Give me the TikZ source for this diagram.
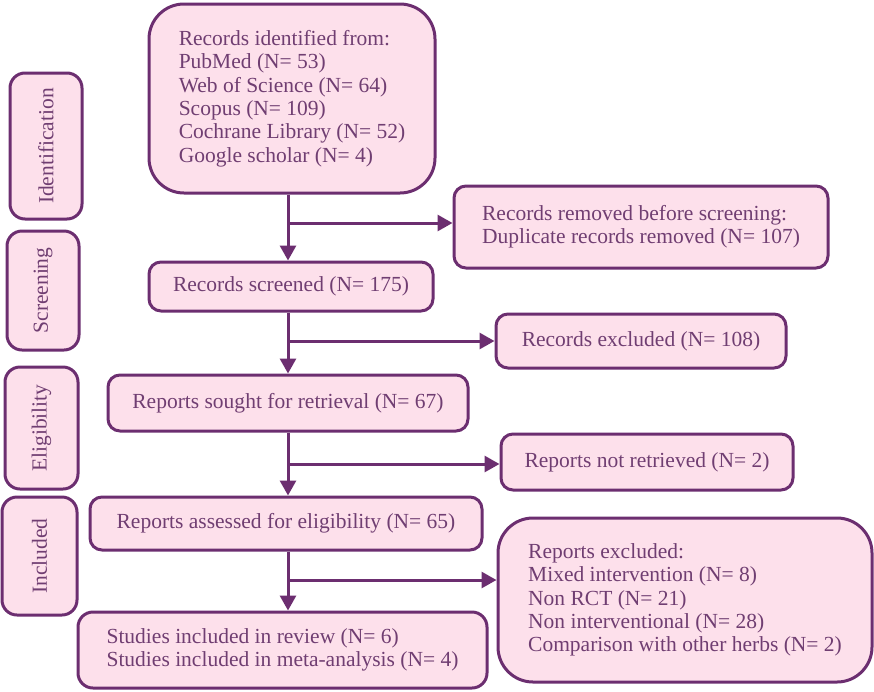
\documentclass[tikz,border=0pt]{standalone}
\usepackage{fontspec}
\setmainfont{Liberation Serif}
\usetikzlibrary{arrows.meta}
\definecolor{boxfill}{RGB}{253,224,235}
\definecolor{boxline}{RGB}{108,46,112}
\definecolor{boxtext}{RGB}{112,62,114}

\begin{document}
\begin{tikzpicture}[
		x=1pt, y=-1pt,
		box/.style={draw=boxline, line width=3pt, fill=boxfill, text=boxtext,
			rounded corners=12pt, align=left, inner sep=0pt,
			font=\fontsize{21.5}{23.3}\selectfont},
		phase/.style={box, rounded corners=15pt, rotate=90},
		flow/.style={draw=boxline, line width=3pt, -{Triangle[length=15pt,width=16pt]}},
	]
		\useasboundingbox (0,0) rectangle (874,691);

		% phase labels
		\node[phase, minimum width=146pt, minimum height=72pt] (idph) at (46,146) {Identification};
		\node[phase, minimum width=119pt, minimum height=72pt] (scrph) at (43,290.5) {Screening};
		\node[phase, minimum width=122pt, minimum height=73pt] (eliph) at (41.5,428) {Eligibility};
		\node[phase, minimum width=118pt, minimum height=75pt] (incph) at (39.5,556) {Included};

		% main column
		\node[box, rounded corners=35pt, minimum width=286pt, minimum height=189pt] (ident) at (292,98.5)
			{Records identified from:\\PubMed (N= 53)\\Web of Science (N= 64)\\Scopus (N= 109)\\Cochrane Library (N= 52)\\Google scholar (N= 4)};
		\node[box, minimum width=284pt, minimum height=49pt] (screened) at (291,286.5) {Records screened (N= 175)};
		\node[box, minimum width=360pt, minimum height=56pt] (sought) at (288,403) {Reports sought for retrieval (N= 67)};
		\node[box, minimum width=392pt, minimum height=53pt] (assessed) at (286,523.5) {Reports assessed for eligibility (N= 65)};
		\node[box, rounded corners=15pt, minimum width=409pt, minimum height=76pt] (studies) at (282.5,650)
			{Studies included in review (N= 6)\\Studies included in meta-analysis (N= 4)};

		% side column
		\node[box, minimum width=374pt, minimum height=82pt] (removed) at (641,227)
			{Records removed before screening:\\Duplicate records removed (N= 107)};
		\node[box, minimum width=290pt, minimum height=54pt] (excluded) at (641,341) {Records excluded (N= 108)};
		\node[box, minimum width=292pt, minimum height=56pt] (notret) at (647,462) {Reports not retrieved (N= 2)};
		\node[box, rounded corners=35pt, minimum width=374pt, minimum height=164pt] (rexcl) at (685,600)
			{Reports excluded:\\Mixed intervention (N= 8)\\Non RCT (N= 21)\\Non interventional (N= 28)\\Comparison with other herbs (N= 2)};

		% trunk and branches
		\coordinate (trunk) at (288,0);
		\coordinate (b1) at (288,223);
		\coordinate (b2) at (288,341);
		\coordinate (b3) at (288,464);
		\coordinate (b4) at (288,580);

		\draw[flow] (ident.south -| trunk) -- (screened.north -| trunk);
		\draw[flow] (screened.south -| trunk) -- (sought.north -| trunk);
		\draw[flow] (sought.south -| trunk) -- (assessed.north -| trunk);
		\draw[flow] (assessed.south -| trunk) -- (studies.north -| trunk);

		\draw[flow] (b1) -- (removed.west |- b1);
		\draw[flow] (b2) -- (excluded.west |- b2);
		\draw[flow] (b3) -- (notret.west |- b3);
		\draw[flow] (b4) -- (rexcl.west |- b4);
	\end{tikzpicture}
\end{document}
